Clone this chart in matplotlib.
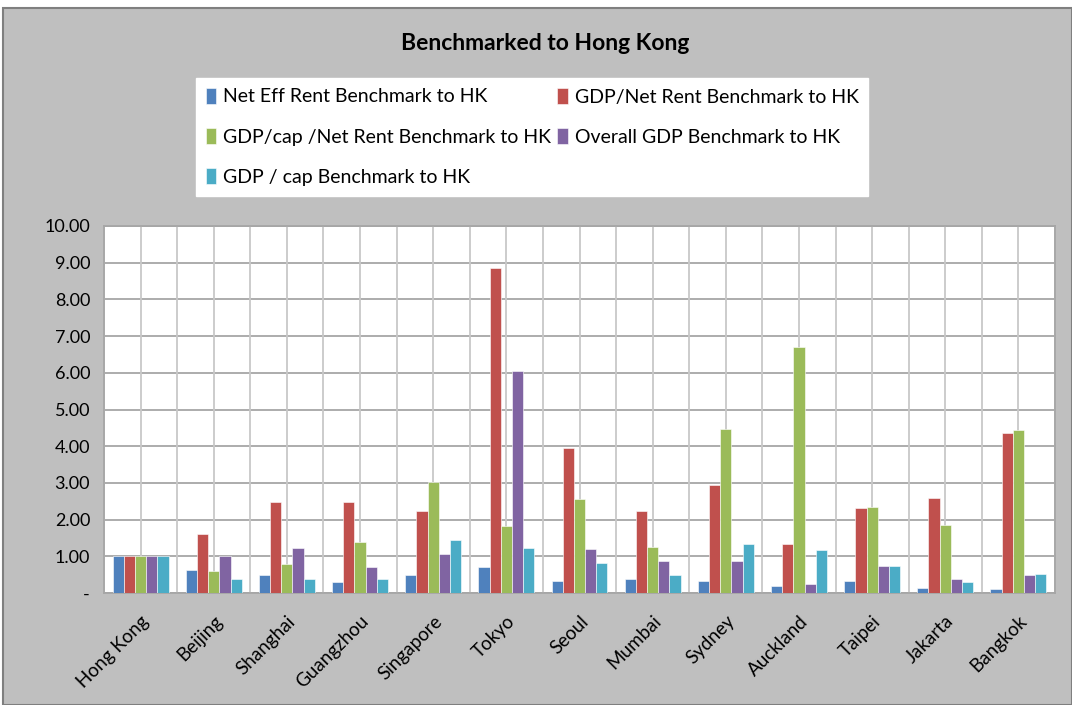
import matplotlib
matplotlib.use("Agg")
import matplotlib.pyplot as plt
import numpy as np
from matplotlib.patches import Rectangle

cities = ["Hong Kong", "Beijing", "Shanghai", "Guangzhou", "Singapore", "Tokyo", "Seoul",
          "Mumbai", "Sydney", "Auckland", "Taipei", "Jakarta", "Bangkok"]
series_names = ["Net Eff Rent Benchmark to HK", "GDP/Net Rent Benchmark to HK",
                "GDP/cap /Net Rent Benchmark to HK", "Overall GDP Benchmark to HK",
                "GDP / cap Benchmark to HK"]
net_eff_rent = [1.00, 0.63, 0.49, 0.29, 0.49, 0.71, 0.33, 0.39, 0.33, 0.18, 0.33, 0.14, 0.12]
gdp_net_rent = [1.00, 1.61, 2.48, 2.48, 2.24, 8.85, 3.94, 2.24, 2.93, 1.34, 2.31, 2.59, 4.37]
gdpcap_net_rent = [1.00, 0.61, 0.78, 1.40, 3.02, 1.82, 2.55, 1.26, 4.46, 6.70, 2.34, 1.86, 4.43]
overall_gdp = [1.00, 1.00, 1.22, 0.71, 1.06, 6.06, 1.19, 0.88, 0.88, 0.25, 0.73, 0.39, 0.49]
gdp_cap = [1.00, 0.39, 0.39, 0.39, 1.44, 1.22, 0.81, 0.49, 1.34, 1.17, 0.73, 0.29, 0.53]
yticks = [0, 1, 2, 3, 4, 5, 6, 7, 8, 9, 10]

series = [net_eff_rent, gdp_net_rent, gdpcap_net_rent, overall_gdp, gdp_cap]
colors = ["#4F81BD", "#C0504D", "#9BBB59", "#8064A2", "#4BACC6"]

plt.rcParams['font.family'] = ['Lato', 'DejaVu Sans']

W, H = 1072, 705
fig = plt.figure(figsize=(W / 100, H / 100), dpi=100)
fig.patch.set_facecolor("white")
# chart area background with border
bg = Rectangle((3 / W, 0), 1 - 3 / W, 1 - 8 / H, transform=fig.transFigure,
               facecolor="#BFBFBF", edgecolor="#7F7F7F", linewidth=1.5, zorder=-10)
fig.patches.append(bg)

ax = fig.add_axes([104 / W, 1 - 593 / H, (1055 - 104) / W, (593 - 226) / H])
ax.set_zorder(1)
ax.set_facecolor("white")

n = len(cities)
x = np.arange(n)
bw = 0.153
for i, (vals, c, name) in enumerate(zip(series, colors, series_names)):
    ax.bar(x + (i - 2) * bw, vals, width=bw, color=c, edgecolor="white", linewidth=0.4,
           label=name, zorder=3)

ax.set_xlim(-0.5, n - 0.5)
ax.set_ylim(0, 10)
ax.set_yticks(yticks)
ax.set_yticklabels(["-" if v == 0 else f"{v:.2f}" for v in yticks], fontsize=13)
ax.set_xticks(x)
ax.set_xticklabels(cities, rotation=45, ha="right", rotation_mode="anchor", fontsize=13.5)
ax.tick_params(axis="y", length=0, pad=10)
ax.tick_params(axis="x", length=0, pad=14)

# gridlines
for v in yticks:
    ax.axhline(v, color="#A6A6A6", linewidth=1.3, zorder=1)
for k in np.arange(-0.5, n, 0.5):
    ax.axvline(k, color="#C8C8C8", linewidth=1.3, zorder=1)
for s in ax.spines.values():
    s.set_color("#A6A6A6")
    s.set_linewidth(1.3)

fig.text(545 / W, 1 - 44 / H, "Benchmarked to Hong Kong", ha="center", va="center",
         fontsize=16.5, fontweight="bold")

handles, labels = ax.get_legend_handles_labels()
order = [0, 2, 4, 1, 3]
leg = fig.legend([handles[i] for i in order], [labels[i] for i in order], ncol=2,
                 loc="upper left", bbox_to_anchor=(196 / W, 1 - 78 / H), frameon=True,
                 fontsize=14, handlelength=0.55, handleheight=0.9, handletextpad=0.35,
                 columnspacing=0.3, labelspacing=1.15, borderpad=0.5, borderaxespad=0,
                 fancybox=False, framealpha=1)
leg.get_frame().set_facecolor("white")
leg.get_frame().set_edgecolor("white")

fig.savefig("out.png", dpi=100)
